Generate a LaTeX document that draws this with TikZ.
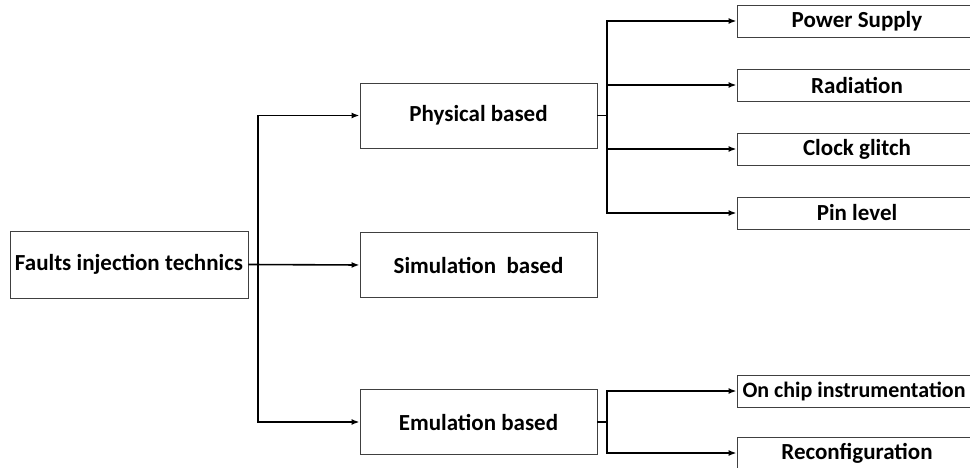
\documentclass[tikz,border=0pt]{standalone}
\usepackage{fontspec}
\setmainfont{Carlito}
\usetikzlibrary{arrows.meta}
\tikzset{
  box/.style={draw=black!75, line width=0.9pt, fill=white, minimum width=237pt,
    minimum height=65pt, inner sep=1pt, font=\bfseries\fontsize{23}{26}\selectfont},
  leaf/.style={box, minimum width=240pt, minimum height=32pt},
  link/.style={line width=1.6pt, -{Latex[length=8pt,width=6pt]}},
  plain/.style={line width=1.6pt}
}
\begin{document}
\begin{tikzpicture}[x=1pt,y=1pt]
    \useasboundingbox (0,0) rectangle (970,-468);
    \clip (0,0) rectangle (970,-468);
    % main tree
    \node[box, minimum width=238pt, minimum height=67pt] (root) at (129,-264.5) {Faults injection technics};
    \node[box] (phys) at (478.5,-115.5) {Physical based};
    \node[box] (simu) at (478.5,-265) {Simulation\ \ based};
    \node[box] (emul) at (478.5,-422) {Emulation based};
    % leaves
    \node[leaf] (power) at (857,-21) {Power Supply};
    \node[leaf] (radi) at (857,-85) {Radiation};
    \node[leaf] (clock) at (857,-149) {Clock glitch};
    \node[leaf] (pin) at (857,-213) {Pin level};
    \node[leaf] (chip) at (857,-391) {};
    \node[font=\bfseries\fontsize{22}{26}\selectfont, inner sep=0pt] (chiptext) at (854,-391) {On chip instrumentation};
    \node[leaf] (reconf) at (857,-453) {Reconfiguration};
    % connectors
    \coordinate (trunk) at (258,-264.5);
    \coordinate (pb) at (607,-115.5);
    \coordinate (eb) at (607,-422);
    \draw[link] (root.east) -- (simu.west);
    \draw[link] (trunk) |- (phys.west);
    \draw[link] (trunk) |- (emul.west);
    \draw[plain] (phys.east) -- (pb);
    \draw[plain] (emul.east) -- (eb);
    \foreach \n in {power,radi,clock,pin}
      \draw[link] (pb) |- (\n.west);
    \foreach \n in {chip,reconf}
      \draw[link] (eb) |- (\n.west);
\end{tikzpicture}
\end{document}
